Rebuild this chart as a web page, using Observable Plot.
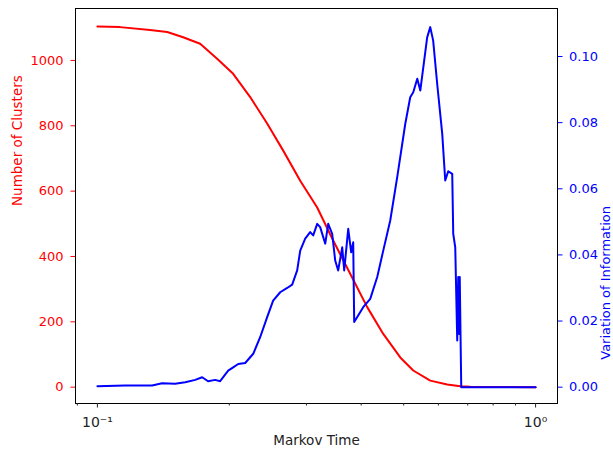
<!DOCTYPE html>
<html>
<head>
<meta charset="utf-8">
<script src="https://cdn.jsdelivr.net/npm/d3@7"></script>
<script src="https://cdn.jsdelivr.net/npm/@observablehq/plot@0.6"></script>
<style>
  html, body { margin: 0; padding: 0; background: white; }
</style>
</head>
<body>
<div id="chart"></div>
<script>
// Number of clusters (left axis, red)
const redTime = [0.1, 0.1127, 0.1319, 0.1443, 0.1569, 0.1716, 0.1876, 0.2041, 0.2232, 0.2440, 0.2655, 0.2903, 0.3174, 0.3452, 0.3775, 0.4128, 0.4491, 0.4911, 0.5258, 0.5749, 0.6286, 0.6731, 0.7094, 1.0];
const clusters = [1104, 1102, 1093, 1087, 1071, 1051, 1005, 959, 888, 807, 724, 632, 550, 449, 347, 245, 163, 91, 51, 20, 8, 3, 1, 0];

// Variation of information (right axis, blue)
const blueTime = [0.1, 0.1157, 0.1333, 0.1405, 0.1504, 0.1586, 0.1672, 0.1734, 0.1789, 0.1857, 0.1906, 0.1988, 0.2041, 0.2096, 0.2174, 0.2268, 0.2352, 0.2440, 0.2518, 0.2613, 0.2711, 0.2783, 0.2857, 0.2903, 0.2980, 0.3059, 0.3108, 0.3174, 0.3224, 0.3311, 0.3363, 0.3434, 0.3489, 0.3544, 0.3620, 0.3658, 0.3736, 0.3795, 0.3835, 0.3855, 0.4042, 0.4194, 0.4351, 0.4491, 0.4659, 0.4833, 0.5041, 0.5175, 0.5258, 0.5370, 0.5456, 0.5657, 0.5749, 0.5838, 0.5963, 0.6123, 0.6220, 0.6319, 0.6453, 0.6487, 0.6556, 0.6625, 0.6660, 0.6695, 0.6713, 0.6766, 1.0];
const variation = [0.0003, 0.0005, 0.0005, 0.0012, 0.0010, 0.0015, 0.0022, 0.0030, 0.0018, 0.0022, 0.0018, 0.0050, 0.0060, 0.0070, 0.0073, 0.0101, 0.0151, 0.0212, 0.0262, 0.0287, 0.0300, 0.0310, 0.0353, 0.0413, 0.0449, 0.0469, 0.0459, 0.0494, 0.0484, 0.0434, 0.0494, 0.0464, 0.0383, 0.0353, 0.0423, 0.0353, 0.0479, 0.0408, 0.0438, 0.0197, 0.0242, 0.0267, 0.0333, 0.0413, 0.0504, 0.0635, 0.0796, 0.0877, 0.0892, 0.0933, 0.0897, 0.1058, 0.1089, 0.1048, 0.0917, 0.0766, 0.0625, 0.0653, 0.0645, 0.0464, 0.0423, 0.0141, 0.0333, 0.0161, 0.0333, 0.0, 0.0];

// Tick labels
const leftTicks = [0, 200, 400, 600, 800, 1000];
const rightTicks = [0, 0.02, 0.04, 0.06, 0.08, 0.10];
const xMajorTicks = [0.1, 1];
const xMajorLabels = ["10\u207B\u00B9", "10\u2070"];
const xMinorTicks = [0.09, 0.2, 0.3, 0.4, 0.5, 0.6, 0.7, 0.8, 0.9];

const K = 10120; // right-axis units -> left-axis units

const redData = redTime.map((t, i) => ({t, v: clusters[i]}));
const blueData = blueTime.map((t, i) => ({t, v: variation[i]}));

const RED = "#ff0000";
const BLUE = "#0000ff";

const chart = Plot.plot({
  width: 613,
  height: 451,
  marginLeft: 75,
  marginRight: 56,
  marginTop: 8,
  marginBottom: 48,
  style: {fontFamily: "'DejaVu Sans', sans-serif", fontSize: "13px", background: "white", overflow: "visible"},
  x: {type: "log", domain: [0.08913, 1.122]},
  y: {domain: [-50, 1159]},
  marks: [
    Plot.line(redData, {x: "t", y: "v", stroke: RED, strokeWidth: 2}),
    Plot.line(blueData, {x: "t", y: d => d.v * K, stroke: BLUE, strokeWidth: 2}),
    Plot.frame({stroke: "black", strokeWidth: 1}),
    Plot.axisX({ticks: xMajorTicks, tickSize: 4.5, tickPadding: 9, tickFormat: d => xMajorLabels[xMajorTicks.indexOf(d)], fontSize: 14, color: "#222", label: null}),
    Plot.axisX({ticks: xMinorTicks, tickSize: 2.5, tickFormat: () => "", label: null, stroke: "#222"}),
    Plot.axisY({ticks: leftTicks, anchor: "left", tickSize: 4.5, tickPadding: 7.5, fontSize: 13, color: RED, tickFormat: d => String(d), label: null}),
    Plot.axisY({ticks: rightTicks.map(v => v * K), anchor: "right", tickSize: 4.5, tickPadding: 7, fontSize: 13, color: BLUE, tickFormat: d => (d / K).toFixed(2), label: null}),
    Plot.text(["Markov Time"], {frameAnchor: "bottom", dy: 41, fontSize: 13.5, fill: "#222"}),
    Plot.text(["Number of Clusters"], {frameAnchor: "left", dx: -58, rotate: -90, fontSize: 13.5, fill: RED}),
    Plot.text(["Variation of Information"], {frameAnchor: "right", dx: 48, rotate: -90, fontSize: 13, fill: BLUE})
  ]
});
document.getElementById("chart").appendChild(chart);
</script>
</body>
</html>
